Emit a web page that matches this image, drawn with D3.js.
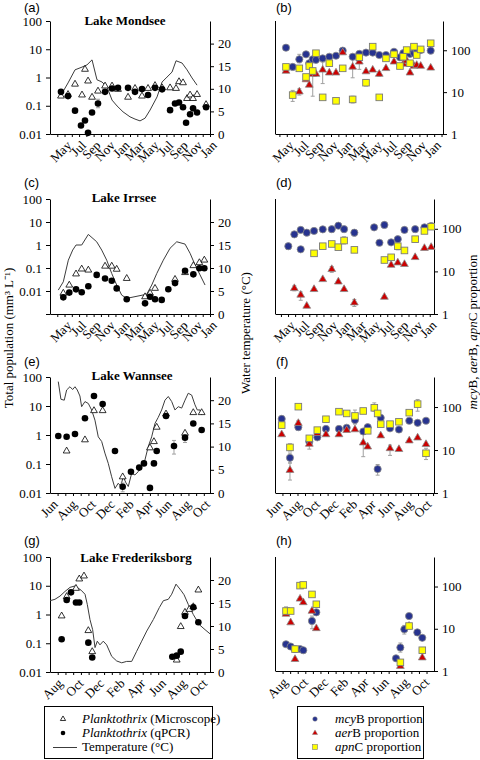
<!DOCTYPE html>
<html><head><meta charset="utf-8">
<script src="https://cdn.jsdelivr.net/npm/d3@7"></script>
<style>body{margin:0;background:#fff;} svg{display:block;}</style>
</head><body>
<script>
// ---------------- DATA ----------------
// x values are months counted from the first labelled month of each panel
const monthsMay = ["May","Jul","Sep","Nov","Jan","Mar","May","Jul","Sep","Nov","Jan"];
const majorsMay = [0,2,4,6,8,10,12,14,16,18,20];
const monthsJun = ["Jun","Aug","Oct","Dec","Feb","Apr","Jun","Aug","Oct"];
const majorsJun = [0,2,4,6,8,10,12,14,16];
const monthsAug = ["Aug","Oct","Dec","Feb","Apr","Jun","Aug","Oct"];
const majorsAug = [0,2,4,6,8,10,12,14];
const popTicks = [0.01,0.1,1,10,100];
const popLabels = ["0.01","0.1","1","10","100"];
const popTicksC = [0.001,0.01,0.1,1,10,100];
const popLabelsC = ["","0.01","0.1","1","10","100"];
const tempTicks = [0,5,10,15,20];
const propTicks = [1,10,100];

// (a) Lake Mondsee
const aTemp = [[-0.49,8.6],[0.48,11.3],[1.44,14.2],[2.40,14.8],[3.09,15.3],[3.78,16.4],[4.46,12.0],[5.15,11.5],[5.84,10.4],[6.53,7.5],[7.22,6.2],[8.04,4.9],[9.0,3.8],[9.69,3.3],[10.38,2.9],[11.07,3.5],[11.76,5.3],[12.72,8.2],[13.41,11.5],[14.09,12.6],[14.78,13.7],[15.33,16.2],[16.16,15.7],[16.84,14.2],[17.53,12.4],[18.22,10.8]];
const aMicro = [[-0.49,0.22],[0.48,0.25],[1.44,0.58],[2.40,0.24],[2.81,1.95],[3.23,0.75],[3.78,0.2],[4.60,0.33],[5.57,0.5],[6.53,0.5],[7.35,0.38],[8.73,0.2],[9.69,0.41],[10.65,0.22],[11.48,0.41],[12.44,0.52],[13.41,0.43],[14.51,0.43],[15.33,0.41],[15.74,0.71],[16.29,0.65],[16.84,0.18],[17.26,0.24],[17.67,0.18],[18.22,0.25],[19.46,0.11]];
const aQpcr = [[-0.49,0.31],[0.48,0.22],[1.44,0.067],[2.26,0.02],[2.81,0.03],[3.23,0.011],[3.78,0.058],[4.60,0.12],[5.57,0.31],[6.53,0.41],[7.35,0.43],[8.73,0.43],[9.69,0.31],[10.65,0.39],[11.48,0.24],[12.44,0.43],[13.41,0.38],[14.51,0.07],[15.19,0.12],[15.74,0.13],[16.29,0.089],[16.71,0.025],[17.26,0.05],[17.67,0.081],[18.22,0.058],[19.46,0.089]];
const aErr = [[4.60,0.085,0.17]];

// (b) Lake Mondsee gene proportions
const bMcy = [[-0.11,115],[0.80,40],[1.70,61],[2.61,80],[3.05,49],[3.52,61],[3.96,59],[4.87,64],[5.77,70],[6.68,74],[7.59,98],[8.94,70],[9.84,82],[10.75,88],[11.66,88],[12.55,77],[13.46,77],[14.55,92],[15.36,68],[15.81,85],[16.72,82],[17.26,85],[17.63,92],[18.17,101],[19.53,98]];
const bAer = [[-0.11,32],[1.70,10.2],[2.61,20],[3.05,14.8],[3.52,27],[3.96,27],[4.87,34],[5.77,29],[6.68,29],[7.59,88],[8.94,40],[9.84,53],[10.75,31],[11.66,34],[12.55,27],[13.46,37],[14.55,53],[15.81,47],[16.27,56],[16.72,29],[17.26,42],[17.63,44],[18.17,42],[19.53,38]];
const bApn = [[-0.11,40],[0.80,8.5],[1.70,37],[2.61,23],[3.05,42],[3.52,32],[3.96,85],[4.87,7.5],[5.77,49],[6.68,6.2],[7.59,37],[8.94,6.7],[9.84,68],[10.75,16.8],[11.66,122],[12.55,7.5],[13.46,64],[14.55,80],[15.36,42],[15.81,70],[16.27,101],[16.72,49],[17.26,122],[17.63,77],[18.17,105],[19.53,147]];
const bErr = [[0.80,6,11],[1.70,8.5,12],[1.70,50,80],[3.52,8,34],[4.87,16,52],[6.68,5.5,7],[8.94,5.5,8],[8.94,22,60],[9.84,35,70],[10.75,14,20],[12.55,24,31]];

// (c) Lake Irrsee
const cTemp = [[-0.86,5.2],[-0.17,7.0],[0.52,11.7],[1.12,13.9],[1.58,15],[2.36,15],[3.27,17.3],[4.42,15.7],[5.11,13.9],[5.80,11.7],[6.49,8.8],[7.17,6.3],[7.86,4.1],[8.55,3.4],[11.30,4.3],[11.99,6.3],[12.68,8.8],[13.58,11.7],[14.51,14.3],[15.43,15.7],[16.57,15.2],[17.26,13.2],[17.94,10.7],[18.63,8.5],[19.32,6.3]];
const cMicro = [[-0.17,0.008],[0.65,0.018],[1.58,0.055],[2.36,0.09],[3.27,0.081],[5.57,0.12],[6.49,0.12],[7.17,0.088],[8.55,0.035],[11.07,0.0056],[11.76,0.008],[12.44,0.013],[15.19,0.032],[16.57,0.063],[17.71,0.126],[18.54,0.17],[19.22,0.22]];
const cQpcr = [[-0.17,0.0053],[0.65,0.0085],[1.58,0.0118],[2.36,0.0088],[3.27,0.016],[4.42,0.05],[5.57,0.035],[6.49,0.028],[7.17,0.013],[8.55,0.0044],[11.07,0.0029],[11.76,0.0056],[12.44,0.0044],[13.36,0.0041],[14.27,0.012],[15.19,0.022],[16.57,0.076],[17.71,0.053],[18.54,0.097],[19.22,0.097]];
const cErr = [];

// (d) Lake Irrsee gene proportions
const dMcy = [[0.04,39],[0.89,74],[1.79,94],[1.79,33],[2.64,81],[3.67,89],[4.90,97],[6.17,98],[7.10,118],[7.91,98],[9.36,81],[12.15,108],[12.90,47],[13.60,123],[14.55,48],[15.49,57],[16.43,94],[17.94,98],[19.25,108],[20.20,116]];
const dAer = [[0.89,4.0],[1.79,2.8],[2.64,1.54],[3.67,3.8],[4.90,6.5],[6.17,11.2],[7.10,5.7],[7.91,3.8],[9.36,1.84],[13.60,2.5],[14.55,14.1],[15.49,16],[16.43,14.7],[17.94,21.4],[19.25,35],[20.20,37]];
const dApn = [[3.67,26.5],[4.90,39],[6.17,44],[7.10,37],[7.91,53],[9.36,32],[13.60,18.5],[14.55,21.4],[15.49,39],[16.43,31],[17.94,57],[19.25,89],[20.20,112]];
const dErr = [[0.04,33,45],[0.89,3.5,4.6],[1.79,2.1,3.3],[6.17,9.5,13],[7.91,44,65],[9.36,68,95],[9.36,1.5,2.2],[15.49,32,46]];

// (e) Lake Wannsee
const eTemp = [[0.77,24],[1.05,20.2],[1.40,20],[1.65,22.2],[2.0,22.9],[2.28,22.3],[2.53,22.9],[2.77,22.2],[3.05,20.9],[3.23,18.6],[3.58,19.7],[3.93,19.3],[4.28,17.9],[4.63,15.7],[4.98,12.1],[5.34,11.1],[5.68,8.6],[6.03,6.4],[6.39,3.5],[6.74,1.0],[7.08,2.1],[7.34,1.5],[7.61,3.5],[7.89,2.2],[8.14,1.4],[8.49,4.2],[8.84,3.9],[9.19,4.6],[9.55,6.0],[9.89,7.1],[10.24,10],[10.6,12.1],[10.95,15],[11.29,16.3],[11.65,17.9],[12.0,20],[12.35,20.8],[12.71,19.7],[13.05,17.9],[13.4,18.6],[13.76,18.3],[14.11,20],[14.45,21.5],[14.81,21.1],[15.16,19],[15.4,17.9],[15.68,17.9],[15.86,16.8]];
const eMicro = [[1.65,0.28],[3.58,0.68],[4.53,6.9],[5.44,6.9],[7.55,0.036],[10.42,0.36],[10.84,0.59],[11.13,1.85],[12.11,5.3],[14.11,1.15],[14.98,5.9],[15.86,5.9]];
const eQpcr = [[0.77,0.92],[1.65,0.87],[2.53,1.08],[3.58,3.8],[4.53,22],[5.44,11.7],[6.74,0.28],[7.55,0.0165],[8.42,0.054],[9.29,0.075],[9.79,0.105],[10.42,0.015],[10.84,0.105],[11.13,0.28],[12.11,4.5],[12.95,0.42],[14.11,0.81],[14.98,2.5],[15.86,1.49]];
const eErr = [[7.55,0.011,0.022],[12.95,0.22,0.65],[14.11,0.55,1.1]];

// (f) Lake Wannsee gene proportions
const fMcy = [[0.62,53],[1.51,6.6],[2.41,34],[3.59,15.6],[4.45,19.7],[5.38,31],[6.78,31],[7.61,33],[8.50,50],[9.39,27],[9.87,34],[10.94,3.6],[11.27,56],[12.27,32],[13.23,30],[14.34,48],[15.24,43],[16.14,48]];
const fAer = [[0.62,23],[1.51,3.4],[2.41,42],[3.59,13.8],[4.45,24.5],[5.38,23],[6.78,23],[7.61,29],[8.50,30],[9.39,14.8],[9.87,11.9],[11.27,21.6],[12.27,10.9],[13.23,10.4],[14.34,16.5],[15.24,19.3],[16.14,13.6]];
const fApn = [[0.62,38],[1.51,11.5],[2.41,102],[3.59,18.7],[4.45,29],[5.38,52],[6.78,78],[7.61,71],[8.50,62],[9.39,81],[9.87,28],[10.58,96],[10.94,71],[11.27,40],[12.27,40],[13.23,45.5],[14.34,74],[15.24,117],[16.14,8.4]];
const fErr = [[0.62,45,62],[1.51,2,5],[1.51,5,8.5],[1.51,9.5,14],[2.41,36,48],[3.59,10.5,16],[8.50,40,85],[9.39,7,30],[10.58,80,125],[10.94,2.6,4.6],[12.27,7.5,13],[15.24,80,150],[16.14,6,11]];

// (g) Lake Frederiksborg
const gTemp = [[-0.58,15.5],[-0.10,15.8],[0.39,16.5],[0.87,17.5],[1.36,18.4],[1.84,18.7],[2.17,18.2],[2.43,17.8],[2.82,16.9],[3.04,14.7],[3.30,11.4],[3.56,9.2],[3.79,5.3],[4.01,6.7],[4.27,5.9],[4.59,6.7],[4.92,5.9],[5.41,3.4],[5.89,2.4],[6.38,2.0],[6.86,2.3],[7.35,2.3],[7.83,4.5],[8.32,6.7],[8.81,8.9],[9.45,11.4],[10.03,14],[10.42,15.5],[10.90,15.8],[11.23,16.9],[11.65,19.1],[12.11,17.8],[12.43,16.8],[12.84,14.7],[13.33,12.5],[13.91,10.3],[14.47,9.2],[14.95,8.3]];
const gMicro = [[0.55,0.89],[1.04,4.2],[1.94,8.1],[2.26,17.2],[2.72,21.8],[3.14,0.275],[3.52,0.051],[11.72,0.026],[12.11,0.38],[12.52,1.19],[12.94,1.5],[13.33,1.86],[13.82,7.1]];
const gQpcr = [[0.55,0.137],[1.04,3.2],[1.46,5.9],[1.94,2.6],[2.26,2.6],[3.14,0.105],[3.52,0.032],[11.29,0.034],[11.72,0.037],[12.11,0.051],[12.52,0.89],[13.33,1.78],[13.82,0.54]];
const gErr = [];

// (h) Lake Frederiksborg gene proportions
const hMcy = [[0.51,4.3],[0.97,3.8],[1.40,3.3],[1.90,3.3],[2.22,3.1],[3.08,15.3],[3.51,24.5],[11.40,2.0],[11.83,3.6],[12.22,9.7],[12.69,20],[13.51,8.2],[14.00,6.1]];
const hAer = [[0.51,22.4],[0.97,14],[1.40,1.9],[1.90,51],[2.22,42],[3.08,26.3],[3.51,10.2],[11.83,1.3],[12.69,11.6],[14.00,2.07]];
const hApn = [[0.51,26.3],[0.97,26.3],[1.40,3.3],[1.90,105],[2.22,109],[3.08,65],[3.51,38],[11.83,1.6],[12.69,11.6],[14.00,3.1]];
const hErr = [[0.51,21,33],[3.08,10,20],[11.83,2.8,4.6],[12.22,7.5,12]];

// ---------------- DRAWING ----------------
const SERIF = "'Liberation Serif','Times New Roman',serif";
const SANS = "'Liberation Sans',Arial,sans-serif";
const FS = 13;
const svg = d3.select("body").append("svg").attr("width",480).attr("height",760);

function styleAxis(sel){
  sel.attr("font-family",SERIF).attr("font-size",FS);
  sel.selectAll("path,line").attr("stroke","#000").attr("stroke-width",1);
  sel.selectAll("text").attr("fill","#000");
}
function bottomAxis(g,x,yPix,minor,majors,labels){
  const a = g.append("g").attr("transform",`translate(0,${yPix})`)
    .call(d3.axisBottom(x).tickValues(minor).tickSize(3).tickSizeOuter(0).tickFormat(""));
  styleAxis(a);
  const b = g.append("g").attr("transform",`translate(0,${yPix})`)
    .call(d3.axisBottom(x).tickValues(majors).tickSize(0).tickFormat((d,i)=>labels[i]));
  b.select(".domain").remove();
  styleAxis(b);
  b.selectAll("text").attr("x",0).attr("y",0).attr("dy","0.35em")
    .attr("text-anchor","end").attr("transform","translate(4,9) rotate(-45)");
}
function errBars(g,x,y,data){
  const e = g.append("g").attr("stroke","#a0a0a0").attr("stroke-width",1);
  data.forEach(d=>{
    const xx=x(d[0]);
    e.append("line").attr("x1",xx).attr("x2",xx).attr("y1",y(d[1])).attr("y2",y(d[2]));
    e.append("line").attr("x1",xx-2).attr("x2",xx+2).attr("y1",y(d[1])).attr("y2",y(d[1]));
    e.append("line").attr("x1",xx-2).attr("x2",xx+2).attr("y1",y(d[2])).attr("y2",y(d[2]));
  });
}
function panelLabel(x,y,txt){
  svg.append("text").attr("x",x).attr("y",y).attr("font-family",SANS).attr("font-size",13).text(txt);
}

function leftPanel(P,D){
  const g = svg.append("g");
  const x = d3.scaleLinear().domain(P.xd).range([P.x0,P.x1]);
  const y = d3.scaleLog().domain(P.yd).range([P.y1,P.y0]);
  const t = d3.scaleLinear().domain([0,25]).range([P.y1,P.y0]);
  bottomAxis(g,x,P.y1,P.minor,D.majors,D.months);
  const la = g.append("g").attr("transform",`translate(${P.x0},0)`)
    .call(d3.axisLeft(y).tickValues(D.yTicks).tickFormat((d,i)=>D.yLabels[i]).tickSize(4).tickSizeOuter(0).tickPadding(4));
  styleAxis(la);
  const ra = g.append("g").attr("transform",`translate(${P.x1},0)`)
    .call(d3.axisRight(t).tickValues(tempTicks).tickSize(4).tickSizeOuter(0).tickPadding(4));
  styleAxis(ra);
  g.append("path").datum(D.temp)
    .attr("d",d3.line().x(d=>x(d[0])).y(d=>t(d[1])))
    .attr("fill","none").attr("stroke","#3c3c3c").attr("stroke-width",1);
  errBars(g,x,y,D.err);
  g.append("g").selectAll("path").data(D.micro).join("path")
    .attr("transform",d=>`translate(${x(d[0])},${y(d[1])})`)
    .attr("d",d3.symbol(d3.symbolTriangle,20)())
    .attr("fill","#fff").attr("stroke","#000").attr("stroke-width",0.8);
  g.append("g").selectAll("circle").data(D.qpcr).join("circle")
    .attr("cx",d=>x(d[0])).attr("cy",d=>y(d[1])).attr("r",3.3).attr("fill","#000");
  svg.append("text").attr("x",P.tx).attr("y",P.ty).attr("text-anchor","middle")
    .attr("font-family",SERIF).attr("font-weight","bold").attr("font-size",13).text(D.title);
  panelLabel(P.lx,P.ly,D.tag);
}

function rightPanel(P,D){
  const g = svg.append("g");
  const x = d3.scaleLinear().domain(P.xd).range([P.x0,P.x1]);
  const y = d3.scaleLog().domain([1,500]).range([P.y1,P.y0]);
  bottomAxis(g,x,P.y1,P.minor,D.majors,D.months);
  g.append("line").attr("x1",P.x0+0.5).attr("x2",P.x0+0.5).attr("y1",P.y0).attr("y2",P.y1).attr("stroke","#000");
  const ra = g.append("g").attr("transform",`translate(${P.x1},0)`)
    .call(d3.axisRight(y).tickValues(propTicks).tickFormat(d3.format("d")).tickSize(4).tickSizeOuter(0).tickPadding(4));
  styleAxis(ra);
  errBars(g,x,y,D.err);
  g.append("g").selectAll("circle").data(D.mcy).join("circle")
    .attr("cx",d=>x(d[0])).attr("cy",d=>y(d[1])).attr("r",3.6)
    .attr("fill","#27338f").attr("stroke","#8a8a8a").attr("stroke-width",0.8);
  g.append("g").selectAll("path").data(D.aer).join("path")
    .attr("transform",d=>`translate(${x(d[0])},${y(d[1])})`)
    .attr("d",d3.symbol(d3.symbolTriangle,26)())
    .attr("fill","#cc0000").attr("stroke","#8a8a8a").attr("stroke-width",0.8);
  g.append("g").selectAll("rect").data(D.apn).join("rect")
    .attr("x",d=>x(d[0])-3.3).attr("y",d=>y(d[1])-3.3).attr("width",6.6).attr("height",6.6)
    .attr("fill","#ffff00").attr("stroke","#7a7a7a").attr("stroke-width",0.9);
  panelLabel(P.lx,P.ly,D.tag);
}

// layout
const stepE = 0.81, stepG = 0.75;
leftPanel({x0:50,x1:210,y0:21,y1:134,xd:[-2,20],yd:[0.01,100],minor:d3.range(-1,20.5,1),tx:125,ty:25,lx:24,ly:12},
  {temp:aTemp,micro:aMicro,qpcr:aQpcr,err:aErr,majors:majorsMay,months:monthsMay,yTicks:popTicks,yLabels:popLabels,title:"Lake Mondsee",tag:"(a)"});
leftPanel({x0:50,x1:210,y0:199,y1:314,xd:[-2,20],yd:[0.001,100],minor:d3.range(-1,20.5,1),tx:124,ty:202,lx:24,ly:187},
  {temp:cTemp,micro:cMicro,qpcr:cQpcr,err:cErr,majors:majorsMay,months:monthsMay,yTicks:popTicksC,yLabels:popLabelsC,title:"Lake Irrsee",tag:"(c)"});
leftPanel({x0:50,x1:210,y0:377,y1:493,xd:[-0.1,16.74],yd:[0.01,100],minor:d3.range(0.7,16.74,stepE),tx:132,ty:380,lx:24,ly:366},
  {temp:eTemp,micro:eMicro,qpcr:eQpcr,err:eErr,majors:majorsJun,months:monthsJun,yTicks:popTicks,yLabels:popLabels,title:"Lake Wannsee",tag:"(e)"});
leftPanel({x0:50,x1:210,y0:557,y1:672,xd:[-0.58,14.95],yd:[0.01,100],minor:d3.range(0.17,14.95,stepG),tx:136,ty:562,lx:24,ly:545},
  {temp:gTemp,micro:gMicro,qpcr:gQpcr,err:gErr,majors:majorsAug,months:monthsAug,yTicks:popTicks,yLabels:popLabels,title:"Lake Frederiksborg",tag:"(g)"});

rightPanel({x0:275,x1:443,y0:21,y1:134,xd:[-1.6,21.2],minor:d3.range(-1,21.2,1),lx:276,ly:12},
  {mcy:bMcy,aer:bAer,apn:bApn,err:bErr,majors:majorsMay,months:monthsMay,tag:"(b)"});
rightPanel({x0:275,x1:434,y0:199,y1:314,xd:[-1.84,20.6],minor:d3.range(-1,20.6,1),lx:276,ly:187},
  {mcy:dMcy,aer:dAer,apn:dApn,err:dErr,majors:majorsMay,months:monthsMay,tag:"(d)"});
rightPanel({x0:275,x1:434,y0:377,y1:493,xd:[-0.1,17],minor:d3.range(0.7,17,stepE),lx:276,ly:366},
  {mcy:fMcy,aer:fAer,apn:fApn,err:fErr,majors:majorsJun,months:monthsJun,tag:"(f)"});
rightPanel({x0:275,x1:434,y0:557,y1:671,xd:[-0.58,15.16],minor:d3.range(0.17,15.16,stepG),lx:276,ly:545},
  {mcy:hMcy,aer:hAer,apn:hApn,err:hErr,majors:majorsAug,months:monthsAug,tag:"(h)"});

// axis titles
svg.append("text").attr("transform","translate(13,338) rotate(-90)").attr("text-anchor","middle")
  .attr("font-family",SERIF).attr("font-size",FS).text("Total population (mm³ L⁻¹)");
svg.append("text").attr("transform","translate(250,333) rotate(-90)").attr("text-anchor","middle")
  .attr("font-family",SERIF).attr("font-size",FS).text("Water temperature (°C)");
{
  const t = svg.append("text").attr("transform","translate(477,332) rotate(-90)").attr("text-anchor","middle")
    .attr("font-family",SERIF).attr("font-size",FS);
  [["mcy",1],["B, ",0],["aer",1],["B, ",0],["apn",1],["C proportion",0]].forEach(p=>
    t.append("tspan").attr("font-style",p[1]?"italic":null).text(p[0]));
}

// legends
function legText(x,y,parts){
  const t = svg.append("text").attr("x",x).attr("y",y).attr("font-family",SERIF).attr("font-size",FS);
  parts.forEach(p=>t.append("tspan").attr("font-style",p[1]?"italic":null).text(p[0]));
}
svg.append("rect").attr("x",44.5).attr("y",706.5).attr("width",168).attr("height",52).attr("fill","none").attr("stroke","#000");
svg.append("path").attr("transform","translate(63,719)").attr("d",d3.symbol(d3.symbolTriangle,12)()).attr("fill","#fff").attr("stroke","#000").attr("stroke-width",0.8);
svg.append("circle").attr("cx",63).attr("cy",733).attr("r",2.3).attr("fill","#000");
svg.append("line").attr("x1",53).attr("x2",77).attr("y1",747.5).attr("y2",747.5).attr("stroke","#3c3c3c");
legText(82,723,[["Planktothrix",1],[" (Microscope)",0]]);
legText(82,737,[["Planktothrix",1],[" (qPCR)",0]]);
legText(82,751,[["Temperature (°C)",0]]);

svg.append("rect").attr("x",297.5).attr("y",706.5).attr("width",126).attr("height",52).attr("fill","none").attr("stroke","#000");
svg.append("circle").attr("cx",315).attr("cy",719).attr("r",2.3).attr("fill","#27338f").attr("stroke","#8a8a8a").attr("stroke-width",0.5);
svg.append("path").attr("transform","translate(315,733)").attr("d",d3.symbol(d3.symbolTriangle,12)()).attr("fill","#cc0000").attr("stroke","#8a8a8a").attr("stroke-width",0.5);
svg.append("rect").attr("x",312.5).attr("y",744.5).attr("width",5).attr("height",5).attr("fill","#ffff00").attr("stroke","#7a7a7a").attr("stroke-width",0.6);
legText(335,723,[["mcy",1],["B proportion",0]]);
legText(335,737,[["aer",1],["B proportion",0]]);
legText(335,751,[["apn",1],["C proportion",0]]);
</script>
</body></html>
